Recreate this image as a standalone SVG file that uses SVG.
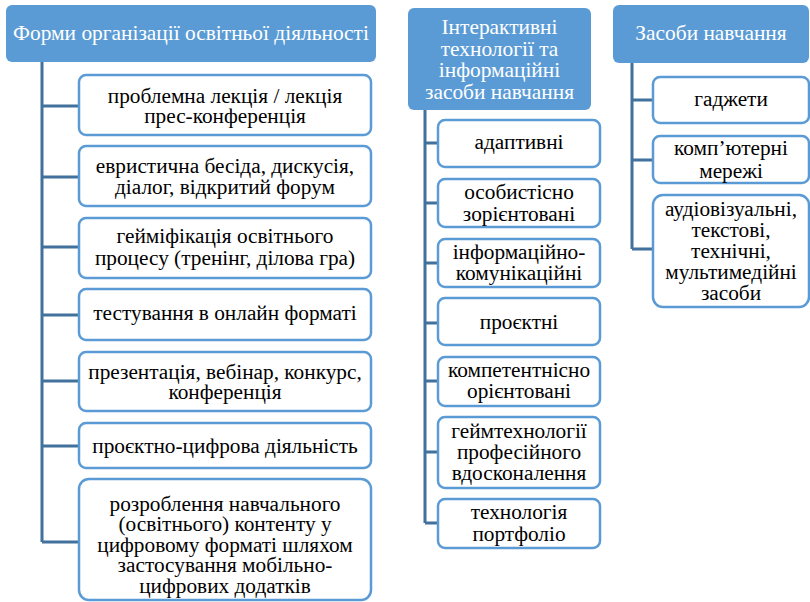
<svg xmlns="http://www.w3.org/2000/svg" width="810" height="602" viewBox="0 0 810 602">
<style>
.hdr{fill:#5B9BD5;}
.hdr-t{fill:#FFFFFF;font-family:'Liberation Serif',serif;font-size:21.4px;text-anchor:middle;}
.box{fill:#FFFFFF;stroke:#5B9BD5;stroke-width:2.5;}
.t{fill:#000000;font-family:'Liberation Serif',serif;font-size:21.3px;text-anchor:middle;}
.con{fill:none;stroke:#41719C;stroke-width:3;}
</style>
<rect width="810" height="602" fill="#FFFFFF"/>
<g id="connectors">
<path class="con" d="M42 62 V542 M42 106 H79 M42 177 H79 M42 247 H79 M42 315 H79 M42 381 H79 M42 446 H79 M42 542 H79"/>
<path class="con" d="M425 110 V523 M425 143 H438 M425 203 H438 M425 263 H438 M425 323 H438 M425 381 H438 M425 452 H438 M425 523 H438"/>
<path class="con" d="M632 63 V249 M632 100 H653 M632 160 H653 M632 249 H653"/>
</g>
<g id="h1"><rect class="hdr" x="6" y="5" width="370" height="57" rx="6"/><text class="hdr-t" x="191" y="40">Форми організації освітньої діяльності</text></g>
<g id="h2"><rect class="hdr" x="408" y="8" width="183" height="102" rx="6"/><text class="hdr-t" x="499.5" y="34">Інтерактивні<tspan x="499.5" dy="21.5">технології та</tspan><tspan x="499.5" dy="21.5">інформаційні</tspan><tspan x="499.5" dy="21.5">засоби навчання</tspan></text></g>
<g id="h3"><rect class="hdr" x="613" y="5" width="196" height="58" rx="6"/><text class="hdr-t" x="711" y="40">Засоби навчання</text></g>

<g id="a1"><rect class="box" x="79" y="75" width="292" height="60" rx="7"/><text class="t" x="225" y="103">проблемна лекція / лекція<tspan x="225" dy="20">прес-конференція</tspan></text></g>
<g id="a2"><rect class="box" x="79" y="146" width="292" height="60" rx="7"/><text class="t" x="225" y="173">евристична бесіда, дискусія,<tspan x="225" dy="21">діалог, відкритий форум</tspan></text></g>
<g id="a3"><rect class="box" x="79" y="218" width="292" height="60" rx="7"/><text class="t" x="225" y="243">гейміфікація освітнього<tspan x="225" dy="22">процесу (тренінг, ділова гра)</tspan></text></g>
<g id="a4"><rect class="box" x="79" y="289" width="292" height="51" rx="7"/><text class="t" x="225" y="320">тестування в онлайн форматі</text></g>
<g id="a5"><rect class="box" x="79" y="352" width="292" height="59" rx="7"/><text class="t" x="225" y="379">презентація, вебінар, конкурс,<tspan x="225" dy="20">конференція</tspan></text></g>
<g id="a6"><rect class="box" x="79" y="423" width="292" height="45" rx="7"/><text class="t" x="225" y="453">проєктно-цифрова діяльність</text></g>
<g id="a7"><rect class="box" x="79" y="479" width="292" height="121" rx="10"/><text class="t" x="225" y="511">розроблення навчального<tspan x="225" dy="20.4">(освітнього) контенту у</tspan><tspan x="225" dy="20.4">цифровому форматі шляхом</tspan><tspan x="225" dy="20.4">застосування мобільно-</tspan><tspan x="225" dy="20.4">цифрових додатків</tspan></text></g>

<g id="b1"><rect class="box" x="438" y="120" width="162" height="47" rx="7"/><text class="t" x="519" y="149">адаптивні</text></g>
<g id="b2"><rect class="box" x="438" y="179" width="162" height="48" rx="7"/><text class="t" x="519" y="199">особистісно<tspan x="519" dy="22">зорієнтовані</tspan></text></g>
<g id="b3"><rect class="box" x="438" y="239" width="162" height="48" rx="7"/><text class="t" x="519" y="259">інформаційно-<tspan x="519" dy="21">комунікаційні</tspan></text></g>
<g id="b4"><rect class="box" x="438" y="298" width="162" height="47" rx="7"/><text class="t" x="519" y="329">проєктні</text></g>
<g id="b5"><rect class="box" x="438" y="357" width="162" height="49" rx="7"/><text class="t" x="519" y="377">компетентнісно<tspan x="519" dy="21">орієнтовані</tspan></text></g>
<g id="b6"><rect class="box" x="438" y="417" width="162" height="71" rx="7"/><text class="t" x="519" y="438">геймтехнології<tspan x="519" dy="21">професійного</tspan><tspan x="519" dy="21">вдосконалення</tspan></text></g>
<g id="b7"><rect class="box" x="438" y="499" width="162" height="49" rx="7"/><text class="t" x="519" y="519">технологія<tspan x="519" dy="22">портфоліо</tspan></text></g>

<g id="c1"><rect class="box" x="653" y="77" width="156" height="46" rx="7"/><text class="t" x="731" y="106">гаджети</text></g>
<g id="c2"><rect class="box" x="653" y="136" width="156" height="47" rx="7"/><text class="t" x="731" y="155">комп’ютерні<tspan x="731" dy="23">мережі</tspan></text></g>
<g id="c3"><rect class="box" x="653" y="195" width="156" height="112" rx="10"/><text class="t" x="731" y="216">аудіовізуальні,<tspan x="731" dy="21">текстові,</tspan><tspan x="731" dy="21">технічні,</tspan><tspan x="731" dy="21">мультимедійні</tspan><tspan x="731" dy="21">засоби</tspan></text></g>
</svg>
